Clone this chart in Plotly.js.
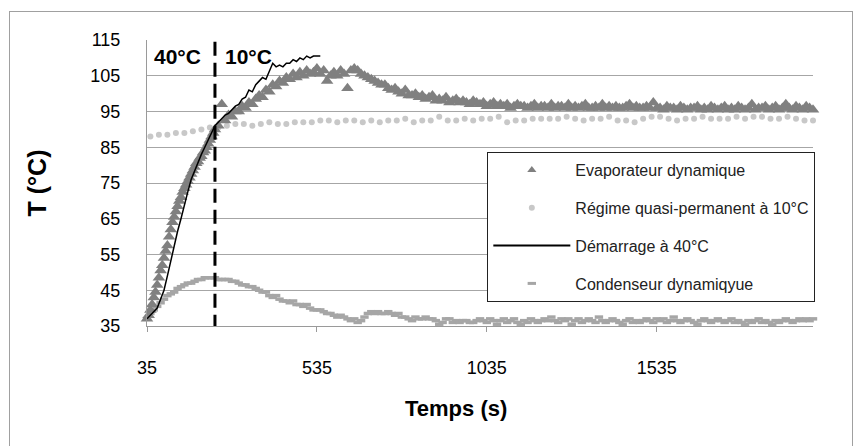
<!DOCTYPE html>
<html>
<head>
<meta charset="utf-8">
<script src="https://cdn.plot.ly/plotly-3.0.1.min.js"></script>
<style>
  html, body { margin: 0; padding: 0; background: #fff; }
  #wrap { position: relative; width: 858px; height: 446px; overflow: hidden; }
  #chart { width: 858px; height: 446px; }
  #frame { position: absolute; left: 9px; top: 11px; width: 842px; height: 460px;
           border: 1px solid #a0a0a0; pointer-events: none; }
</style>
</head>
<body>
<div id="wrap"><div id="chart"></div><div id="frame"></div></div>
<script>
// ---- Data ----
// Evaporateur dynamique
// segment 1 : t = 35..230 s every 5 s (fast rise)
const evapStart1 = 35, evapStep1 = 5;
const evapVals1 = [37, 38, 39.5, 41, 43, 44.5, 46.5, 48.5, 50.5, 52,
  54, 56, 57.5, 60, 62, 64, 65.5, 67, 68.5, 70,
  71, 72.5, 73.5, 74.5, 75.5, 76.5, 77.5, 78.5, 79.5, 80.5,
  81, 82, 82.5, 83.5, 84, 85, 86, 87, 88, 89];
// segment 2 : t = 235..645 s every 10 s
const evapStart2 = 235, evapStep2 = 10;
const evapVals2 = [90, 91, 97, 92.5, 94, 93.5, 95, 95, 96.5, 96,
  97.5, 97, 98.5, 99.5, 99, 101, 100.5, 102.5, 102, 103.5,
  103, 104.5, 104, 105.5, 104.5, 106, 105, 106.5, 105.5, 106,
  107, 105.5, 106.5, 103.5, 105, 106, 105, 106.5, 105.5, 101.5,
  106.5, 107];
// segment 3 : t = 655..1995 s every 10 s
const evapStart3 = 655, evapStep3 = 10;
const evapVals3 = [106.5, 105.5, 105, 104.5, 104, 103.5, 103, 102.5, 102.5, 101.5,
  101, 101.5, 100.5, 100, 101, 99.5, 99.5, 100, 99, 99.5,
  98.5, 99, 99.5, 98, 98.5, 98, 99, 97.5, 98, 98.5,
  97.5, 98, 97.5, 97, 98, 97.5, 97, 97.5, 96.5, 97,
  97.5, 96.5, 97, 96.5, 97, 96, 96.5, 97, 96.5, 96.5,
  96, 96.5, 97, 96, 96.5, 96.5, 96, 97, 96, 96.5,
  96.5, 96, 97, 96, 96.5, 96, 96.5, 97, 96, 96,
  96.5, 96, 97, 96, 96.5, 96, 96.5, 96, 96, 96.5,
  97, 96, 96.5, 96, 96, 96.5, 96, 97.5, 96, 96,
  95.5, 96.5, 96, 96, 95.5, 96.5, 96, 95.5, 96, 96,
  96.5, 95.5, 96, 95.5, 96.5, 96, 95.5, 96, 96.5, 95.5,
  96, 95.5, 96.5, 96, 95.5, 96, 97, 95.5, 96, 96,
  96.5, 95.5, 96, 96.5, 95.5, 96, 97, 96, 95.5, 96.5,
  96, 95.5, 96.5, 96, 95.5];

// Régime quasi-permanent à 10°C (every 25 s from 45 s)
const regStart = 45, regStep = 25;
const regVals = [88, 88.5, 88.5, 89, 89, 89.5, 90, 90.5, 90.5, 91,
  91.5, 91.5, 91, 91.5, 92, 91.5, 91.5, 92, 92, 92,
  92.5, 92.5, 92, 92.5, 92.5, 92, 92.5, 92, 92.5, 92.5,
  93, 92, 92.5, 92.5, 93.5, 92.5, 92.5, 93, 92.5, 93,
  93, 93.5, 92, 92.5, 92.5, 93, 93, 93, 93, 93.5,
  93, 92.5, 93, 93, 93.5, 92.5, 92.5, 92, 93, 93.5,
  93.5, 93, 92.5, 93, 93, 93.5, 93, 93, 93, 93.5,
  93, 93.5, 93.5, 93, 93, 93.5, 93, 92.5, 92.5];

// Démarrage à 40°C (every 10 s from 35 s)
const demStart = 35, demStep = 10;
const demVals = [37, 38, 39, 40, 42.5, 45, 49, 53.5, 57.5, 61.5,
  65, 69, 72.5, 76, 78.5, 81, 83, 85, 87, 89,
  91, 92, 93, 94, 94.5, 95.5, 96.5, 97, 98.5, 99,
  101, 100.5, 102.5, 103.5, 104.5, 104, 106.5, 108.5, 107.5, 108,
  107.5, 108.5, 108.5, 109.5, 109, 110, 109.5, 110.5, 110, 110.5,
  110.5, 110.5];

// Condenseur dynamiqyue : segment 1 (every 10 s from 35), segment 2 (every 10 s from 1005)
const condStart1 = 35, condStep1 = 10;
const condVals1 = [37, 38.5, 39.5, 40.5, 41.5, 42.5, 43.5, 44, 44.5, 45.5,
  46, 46.5, 47, 47, 47.5, 48, 48, 48.5, 48.5, 48.5,
  48.5, 48, 48, 48, 48, 47.5, 47.5, 47, 46.5, 46.5,
  46, 46, 45.5, 45, 44.5, 44.5, 43.5, 43, 43.5, 42.5,
  42, 42, 41.5, 42, 41, 41, 40.5, 41, 40, 39.5,
  39.5, 39.5, 39, 38.5, 38.5, 38, 37.5, 38, 37.5, 37,
  36.5, 37, 36, 36.5, 37.5, 38.5, 39, 38.5, 39, 38.5,
  38.5, 39, 38.5, 38, 38.5, 37.5, 37.5, 37, 36.5, 37.5,
  37, 37, 37.5, 37, 37, 36.5, 35.5, 36, 37, 37,
  36, 36.5, 36, 36.5, 36.5, 36, 36];
const condStart2 = 1005, condStep2 = 10;
const condVals2 = [36.5, 37, 36.5, 36, 37, 36.5, 35.5, 36.5, 37, 36,
  36.5, 37, 36, 35.5, 36.5, 36, 37, 36.5, 36, 36.5,
  37, 36.5, 37.5, 36.5, 36, 37, 36.5, 37, 35.5, 36.5,
  37, 36, 36.5, 37, 36.5, 36, 37.5, 36.5, 36, 36.5,
  37, 36.5, 36, 35.5, 36.5, 37, 36, 36.5, 36, 36.5,
  37, 36.5, 36, 37, 36.5, 37, 36, 36.5, 37.5, 36.5,
  36, 36.5, 37, 36.5, 36, 35.5, 36.5, 37, 36.5, 36,
  36.5, 37, 36.5, 36, 36.5, 37, 36, 36.5, 36, 35.5,
  36.5, 36, 36.5, 37, 36, 36.5, 36, 35.5, 36.5, 36,
  36.5, 37, 36.5, 36, 36.5, 37, 36.5, 37, 36.5, 37];

// Axis tick labels
const xTickVals = [35, 535, 1035, 1535];
const yTickVals = [35, 45, 55, 65, 75, 85, 95, 105, 115];
const switchTime = 235; // time of the 40°C -> 10°C switch (dashed line)

// ---- helpers ----
function times(start, step, n) { const a = []; for (let i = 0; i < n; i++) a.push(start + i * step); return a; }

const evapX = times(evapStart1, evapStep1, evapVals1.length)
  .concat(times(evapStart2, evapStep2, evapVals2.length))
  .concat(times(evapStart3, evapStep3, evapVals3.length));
const evapY = evapVals1.concat(evapVals2).concat(evapVals3);
const condX = times(condStart1, condStep1, condVals1.length).concat(times(condStart2, condStep2, condVals2.length));
const condY = condVals1.concat(condVals2);
const regX = times(regStart, regStep, regVals.length);
const demX = times(demStart, demStep, demVals.length);

const FONT = 'Liberation Sans, Arial, sans-serif';
const EVAP_MARK = { symbol: 'triangle-up', size: 11, color: '#808080' };
const REG_MARK = { symbol: 'circle', size: 6, color: '#c8c8c8' };
const COND_MARK = { symbol: 'line-ew', size: 6, color: '#a6a6a6', line: { color: '#a6a6a6', width: 3.5 } };

const traces = [
  { x: regX, y: regVals, mode: 'markers', type: 'scatter', name: 'Régime quasi-permanent à 10°C',
    marker: REG_MARK, cliponaxis: false, showlegend: false },
  { x: condX, y: condY, mode: 'markers', type: 'scatter', name: 'Condenseur dynamiqyue',
    marker: COND_MARK, cliponaxis: false, showlegend: false },
  { x: evapX, y: evapY, mode: 'markers', type: 'scatter', name: 'Evaporateur dynamique',
    marker: EVAP_MARK, cliponaxis: false, showlegend: false },
  { x: demX, y: demVals, mode: 'lines', type: 'scatter', name: 'Démarrage à 40°C',
    line: { color: '#000000', width: 1.5 }, cliponaxis: false, showlegend: false },
  // legend entries in the reference order
  { x: [null], y: [null], mode: 'markers', name: 'Evaporateur dynamique', legendgroup: 'a',
    marker: { symbol: 'triangle-up', size: 8, color: '#808080' } },
  { x: [null], y: [null], mode: 'markers', name: 'Régime quasi-permanent à 10°C', legendgroup: 'b',
    marker: REG_MARK },
  { x: [null], y: [null], mode: 'lines', name: 'Démarrage à 40°C', legendgroup: 'c',
    line: { color: '#000000', width: 2 } },
  { x: [null], y: [null], mode: 'markers', name: 'Condenseur dynamiqyue', legendgroup: 'd',
    marker: { symbol: 'line-ew', size: 6, color: '#a6a6a6', line: { color: '#a6a6a6', width: 3 } } }
];

const layout = {
  width: 858, height: 446,
  margin: { l: 147, r: 45, t: 40, b: 120 },
  paper_bgcolor: '#ffffff', plot_bgcolor: '#ffffff',
  font: { family: FONT, color: '#000000' },
  showlegend: true,
  legend: {
    x: 0.511, y: 0.608, xanchor: 'left', yanchor: 'top',
    bgcolor: '#ffffff', bordercolor: '#222222', borderwidth: 1,
    font: { family: FONT, size: 16, color: '#222222' },
    itemwidth: 77, tracegroupgap: 14, traceorder: 'grouped'
  },
  xaxis: {
    range: [35, 1995], tickvals: xTickVals, ticktext: xTickVals.map(String),
    showgrid: false, zeroline: false, showline: true, linecolor: '#9a9a9a', linewidth: 1,
    ticks: 'outside', ticklen: 5, tickcolor: '#9a9a9a',
    tickfont: { family: FONT, size: 18, color: '#000' }, ticklabelstandoff: 20
  },
  yaxis: {
    range: [35, 115], tickvals: yTickVals, ticktext: yTickVals.map(String),
    showgrid: true, gridcolor: '#a6a6a6', gridwidth: 1, zeroline: false,
    showline: true, linecolor: '#9a9a9a', linewidth: 1, ticks: '',
    tickfont: { family: FONT, size: 18, color: '#000' }, ticklabelstandoff: 22,
    title: { text: 'T (°C)', font: { family: FONT, size: 25, color: '#000', weight: 'bold' }, standoff: 36 }
  },
  shapes: [
    { type: 'line', xref: 'x', yref: 'y', x0: switchTime, x1: switchTime, y0: 34.2, y1: 114.5,
      line: { color: '#000000', width: 3, dash: '14px,7px' }, layer: 'above' }
  ],
  annotations: [
    { xref: 'x', yref: 'y', x: 126, y: 110.3, text: '<b>40°C</b>', showarrow: false,
      font: { family: FONT, size: 21, color: '#000' } },
    { xref: 'x', yref: 'y', x: 334, y: 110.3, text: '<b>10°C</b>', showarrow: false,
      font: { family: FONT, size: 21, color: '#000' } },
    { xref: 'paper', yref: 'paper', x: 0.464, y: -0.287, xanchor: 'center', yanchor: 'middle',
      text: '<b>Temps (s)</b>', showarrow: false, font: { family: FONT, size: 22, color: '#000' } }
  ]
};

Plotly.newPlot('chart', traces, layout, { displayModeBar: false, staticPlot: true });
</script>
</body>
</html>
